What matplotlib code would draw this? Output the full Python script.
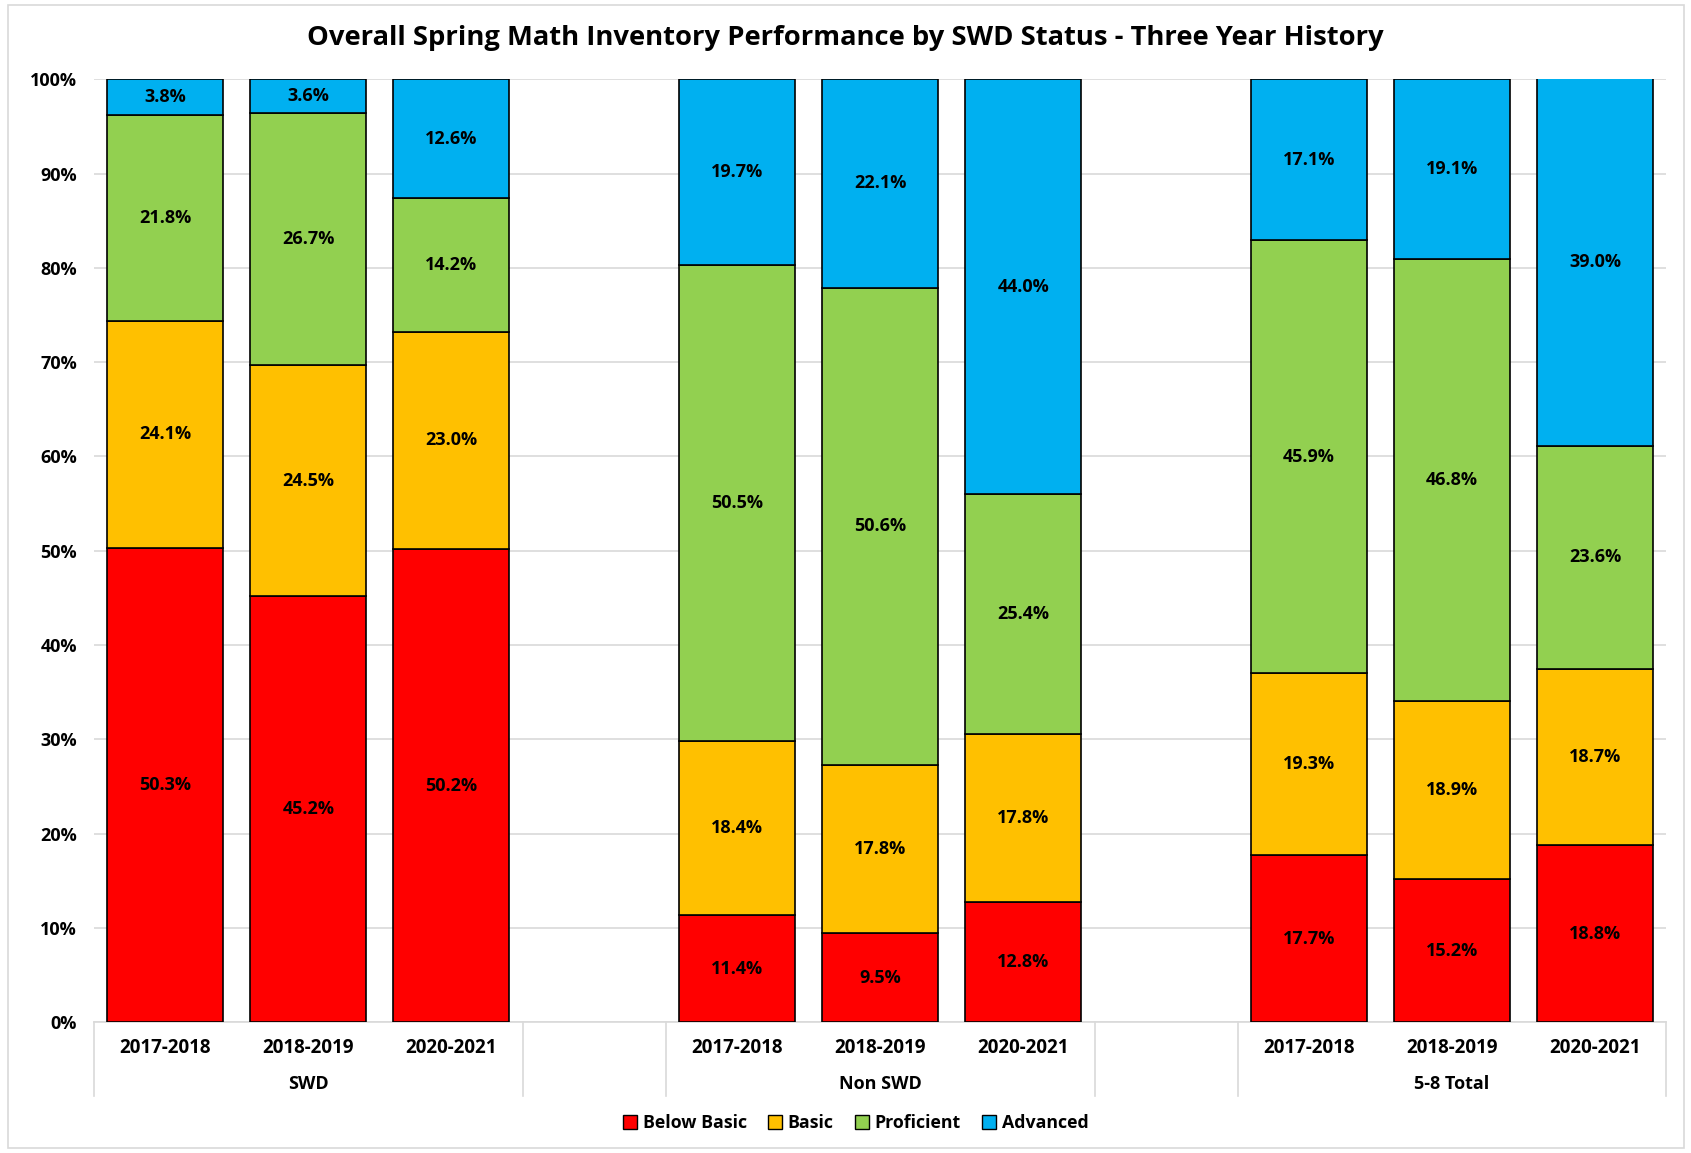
import numpy as np
import matplotlib
matplotlib.use("Agg")
import matplotlib.pyplot as plt
from matplotlib.patches import Rectangle, Patch

# Data
groups = ["SWD", "Non SWD", "5-8 Total"]
years = ["2017-2018", "2018-2019", "2020-2021"]
levels = ["Below Basic", "Basic", "Proficient", "Advanced"]

below_basic = [50.3, 45.2, 50.2, 11.4, 9.5, 12.8, 17.7, 15.2, 18.8]
basic = [24.1, 24.5, 23.0, 18.4, 17.8, 17.8, 19.3, 18.9, 18.7]
proficient = [21.8, 26.7, 14.2, 50.5, 50.6, 25.4, 45.9, 46.8, 23.6]
advanced = [3.8, 3.6, 12.6, 19.7, 22.1, 44.0, 17.1, 19.1, 39.0]

colors = ["#FF0000", "#FFC000", "#92D050", "#00B0F0"]

plt.rcParams['font.family'] = ['Open Sans', 'DejaVu Sans']

fig = plt.figure(figsize=(16.91, 11.53), dpi=100)
ax = fig.add_axes([0.0555, 0.1133, 0.930, 0.818])

# bar positions: 3 bars per group, one empty slot between groups
xpos = []
for g in range(len(groups)):
    for y in range(len(years)):
        xpos.append(g * 4 + y)
xpos = np.array(xpos)

series = [below_basic, basic, proficient, advanced]
bottom = np.zeros(len(xpos))
for vals, col, name in zip(series, colors, levels):
    vals = np.array(vals)
    ax.bar(xpos, vals, width=0.81, bottom=bottom, color=col,
           edgecolor="black", linewidth=1.2, label=name, zorder=3)
    for x, b, v in zip(xpos, bottom, vals):
        ax.text(x, b + v / 2, f"{v:.1f}%", ha="center", va="center",
                fontsize=13, fontweight="bold", color="black", zorder=4)
    bottom = bottom + vals

ax.set_xlim(-0.5, 10.5)
ax.set_ylim(0, 100)
ax.set_yticks(np.arange(0, 101, 10))
ax.set_yticklabels([f"{t}%" for t in range(0, 101, 10)], fontsize=13, fontweight="bold")
ax.yaxis.grid(True, color="#D9D9D9", linewidth=1.2, zorder=0)
ax.tick_params(axis="y", length=0, pad=12)
ax.tick_params(axis="x", length=0, pad=11)
ax.set_xticks(xpos)
ax.set_xticklabels(years * 3, fontsize=13.5, fontweight="bold")
for s in ["left", "right", "top"]:
    ax.spines[s].set_visible(False)
ax.spines["bottom"].set_color("#D9D9D9")
ax.spines["bottom"].set_linewidth(1.2)

# group labels and separators under the axis
trans = ax.get_xaxis_transform()
for g, name in enumerate(groups):
    ax.text(g * 4 + 1, -0.065, name, transform=trans, ha="center", va="center",
            fontsize=13, fontweight="bold")
for sx in [-0.5, 2.5, 3.5, 6.5, 7.5, 10.5]:
    ax.plot([sx, sx], [0, -0.078], transform=trans, color="#D9D9D9",
            linewidth=1.2, clip_on=False)

fig.suptitle("Overall Spring Math Inventory Performance by SWD Status - Three Year History",
             y=0.967, va="center", fontsize=19.7, fontweight="bold")

handles = [Patch(facecolor=c, edgecolor="black", linewidth=1) for c in colors]
fig.legend(handles, levels, loc="center", bbox_to_anchor=(0.506, 0.026), ncol=4,
           frameon=False, prop={"weight": "bold", "size": 12.8},
           handlelength=0.8, handleheight=0.8, handletextpad=0.3, columnspacing=1.2)

# light chart border
fig.patches.append(Rectangle((0.005, 0.004), 0.991, 0.992, transform=fig.transFigure,
                             fill=False, edgecolor="#D9D9D9", linewidth=1.2))

fig.savefig("out.png", dpi=100, facecolor="white")
